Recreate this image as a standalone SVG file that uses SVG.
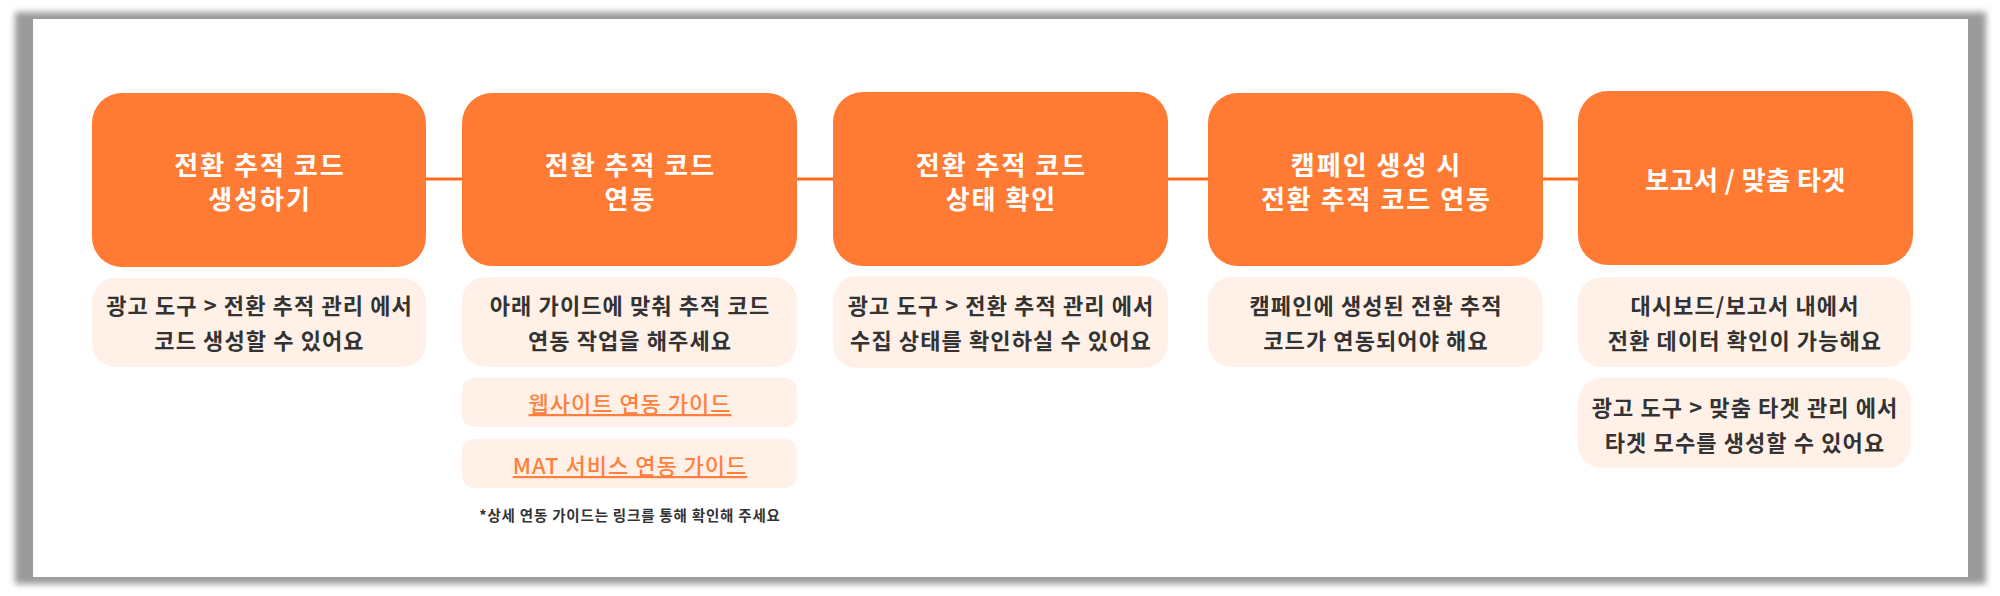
<svg xmlns="http://www.w3.org/2000/svg" width="2000" height="596" viewBox="0 0 2000 596">
  <defs>
    <filter id="blur" x="-5%" y="-5%" width="110%" height="110%">
      <feGaussianBlur stdDeviation="3"/>
    </filter>
  </defs>
  <style>
    .step { fill: #FF7B33; }
    .desc { fill: #FFF1E8; }
    .title { font-family: "Noto Sans CJK KR", "Noto Sans", sans-serif; font-size: 26px; font-weight: bold; fill: #FFFFFF; text-anchor: middle; letter-spacing: 2px; }
    .txt { font-family: "Noto Sans CJK KR", "Noto Sans", sans-serif; font-size: 22px; font-weight: 600; fill: #333333; text-anchor: middle; letter-spacing: 1.1px; }
    .link { font-family: "Noto Sans CJK KR", "Noto Sans", sans-serif; font-size: 22px; font-weight: 500; fill: #FF7F3F; text-anchor: middle; text-decoration: underline; letter-spacing: 1px; }
    .note { font-family: "Noto Sans CJK KR", "Noto Sans", sans-serif; font-size: 14.5px; font-weight: 600; fill: #333333; text-anchor: middle; letter-spacing: 0.8px; }
    .conn { stroke: #FF6A1A; stroke-width: 3; fill: none; }
  </style>

  <!-- frame -->
  <rect x="0" y="0" width="2000" height="596" fill="#FFFFFF"/>
  <rect x="15" y="12" width="1971" height="572" fill="#9A9A9A" filter="url(#blur)"/>
  <rect x="33" y="19" width="1935" height="558" fill="#FFFFFF"/>

  <g id="connectors">
    <line class="conn" x1="426" y1="179" x2="462" y2="179"/>
    <line class="conn" x1="797" y1="179" x2="833" y2="179"/>
    <line class="conn" x1="1168" y1="179" x2="1208" y2="179"/>
    <line class="conn" x1="1543" y1="179" x2="1578" y2="179"/>
  </g>

  <g id="step1">
    <rect class="step" x="92" y="93" width="334" height="174" rx="30"/>
    <text class="title" x="260" y="175">전환 추적 코드</text>
    <text class="title" x="260" y="209">생성하기</text>
  </g>
  <g id="step1-desc">
    <rect class="desc" x="92" y="278" width="334" height="89" rx="24"/>
    <text class="txt" x="259.5" y="314">광고 도구 &gt; 전환 추적 관리 에서</text>
    <text class="txt" x="259.5" y="349">코드 생성할 수 있어요</text>
  </g>

  <g id="step2">
    <rect class="step" x="462" y="93" width="335" height="173" rx="30"/>
    <text class="title" x="630.5" y="175">전환 추적 코드</text>
    <text class="title" x="630.5" y="209">연동</text>
  </g>
  <g id="step2-desc">
    <rect class="desc" x="462" y="277" width="335" height="90" rx="24"/>
    <text class="txt" x="630" y="314">아래 가이드에 맞춰 추적 코드</text>
    <text class="txt" x="630" y="349">연동 작업을 해주세요</text>
  </g>
  <g id="step2-link1">
    <rect class="desc" x="462" y="378" width="335" height="49" rx="12"/>
    <text class="link" x="630" y="412">웹사이트 연동 가이드</text>
  </g>
  <g id="step2-link2">
    <rect class="desc" x="462" y="439" width="335" height="49" rx="12"/>
    <text class="link" x="630" y="474">MAT 서비스 연동 가이드</text>
  </g>
  <g id="step2-note">
    <text class="note" x="630" y="521">*상세 연동 가이드는 링크를 통해 확인해 주세요</text>
  </g>

  <g id="step3">
    <rect class="step" x="833" y="92" width="335" height="174" rx="30"/>
    <text class="title" x="1001.5" y="175">전환 추적 코드</text>
    <text class="title" x="1001.5" y="209">상태 확인</text>
  </g>
  <g id="step3-desc">
    <rect class="desc" x="833" y="276" width="335" height="92" rx="24"/>
    <text class="txt" x="1001" y="314">광고 도구 &gt; 전환 추적 관리 에서</text>
    <text class="txt" x="1001" y="349">수집 상태를 확인하실 수 있어요</text>
  </g>

  <g id="step4">
    <rect class="step" x="1208" y="93" width="335" height="173" rx="30"/>
    <text class="title" x="1376.5" y="175">캠페인 생성 시</text>
    <text class="title" x="1376.5" y="209">전환 추적 코드 연동</text>
  </g>
  <g id="step4-desc">
    <rect class="desc" x="1208" y="277" width="335" height="90" rx="24"/>
    <text class="txt" x="1376" y="314">캠페인에 생성된 전환 추적</text>
    <text class="txt" x="1376" y="349">코드가 연동되어야 해요</text>
  </g>

  <g id="step5">
    <rect class="step" x="1578" y="91" width="335" height="174" rx="30"/>
    <text class="title" x="1745.5" y="190" style="letter-spacing:0.5px">보고서 / 맞춤 타겟</text>
  </g>
  <g id="step5-desc1">
    <rect class="desc" x="1578" y="277" width="333" height="90" rx="24"/>
    <text class="txt" x="1745" y="314">대시보드/보고서 내에서</text>
    <text class="txt" x="1745" y="349">전환 데이터 확인이 가능해요</text>
  </g>
  <g id="step5-desc2">
    <rect class="desc" x="1578" y="378" width="333" height="90" rx="24"/>
    <text class="txt" x="1745" y="416">광고 도구 &gt; 맞춤 타겟 관리 에서</text>
    <text class="txt" x="1745" y="451">타겟 모수를 생성할 수 있어요</text>
  </g>
</svg>
